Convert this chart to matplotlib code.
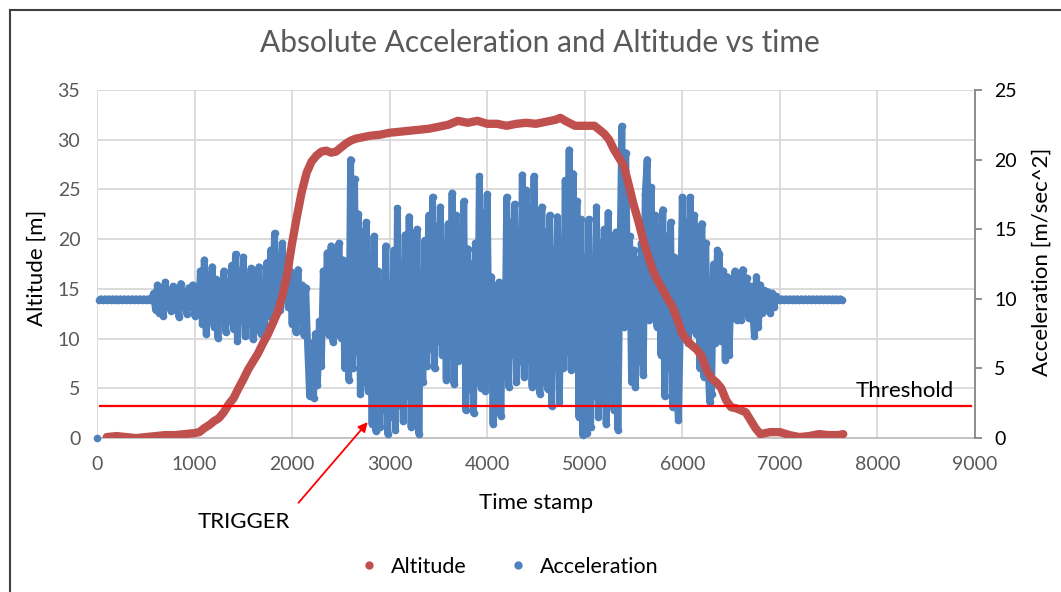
import numpy as np
import matplotlib
matplotlib.use("Agg")
import matplotlib.pyplot as plt
from matplotlib.lines import Line2D

plt.rcParams['font.family'] = ['Lato', 'DejaVu Sans']

# Altitude [m] vs time stamp
alt_time = [100, 200, 300, 400, 500, 600, 700, 800, 900, 1000, 1050, 1100, 1150, 1200,
            1250, 1300, 1350, 1400, 1450, 1500, 1550, 1600, 1650, 1700, 1750, 1800,
            1850, 1900, 1950, 2000, 2050, 2100, 2150, 2200, 2250, 2300, 2350, 2400,
            2450, 2500, 2550, 2600, 2650, 2700, 2800, 2900, 3000, 3100, 3200, 3300,
            3400, 3500, 3600, 3700, 3800, 3900, 4000, 4100, 4200, 4300, 4400, 4500,
            4600, 4700, 4750, 4800, 4900, 5000, 5100, 5200, 5250, 5300, 5350, 5400,
            5450, 5500, 5550, 5600, 5650, 5700, 5750, 5800, 5850, 5900, 5950, 6000,
            6050, 6100, 6150, 6200, 6250, 6300, 6350, 6400, 6450, 6500, 6550, 6600,
            6650, 6700, 6750, 6800, 6850, 6900, 7000, 7100, 7200, 7300, 7400, 7500,
            7600, 7650]
altitude = [0.1, 0.2, 0.1, 0.0, 0.1, 0.2, 0.3, 0.3, 0.4, 0.5, 0.6, 1.0, 1.3, 1.7,
            2.0, 2.6, 3.4, 4.0, 5.0, 5.9, 6.9, 7.7, 8.5, 9.5, 10.4, 11.5,
            12.6, 14.3, 16.5, 19.6, 22.3, 24.8, 26.7, 27.8, 28.4, 28.8, 28.9, 28.7,
            28.8, 29.2, 29.6, 29.9, 30.1, 30.2, 30.4, 30.5, 30.7, 30.8, 30.9, 31.0,
            31.1, 31.3, 31.5, 31.9, 31.7, 31.9, 31.6, 31.6, 31.4, 31.6, 31.7, 31.6,
            31.8, 32.0, 32.2, 31.9, 31.4, 31.4, 31.4, 30.6, 30.0, 29.0, 28.2, 27.4,
            25.5, 23.5, 21.8, 19.9, 18.3, 16.8, 15.8, 14.9, 14.0, 13.2, 11.9, 10.5,
            9.8, 9.3, 8.9, 8.2, 6.8, 6.0, 5.6, 5.0, 3.8, 3.1, 3.0, 2.8,
            2.6, 1.8, 1.0, 0.4, 0.5, 0.6, 0.6, 0.3, 0.1, 0.2, 0.4, 0.3,
            0.3, 0.4]

# Absolute acceleration [m/sec^2], one sample every 20 time stamps from 0
sample_step = 20
acc_rest_before = [0.0, 9.9, 10.0, 9.9, 10.0, 9.9, 10.0, 9.9, 10.0, 9.9, 10.0, 9.9, 10.0,
                   9.9, 10.0, 9.9, 10.0, 9.9, 10.0, 9.9, 10.0, 9.9, 10.0, 9.9, 10.0,
                   9.9, 10.0, 9.9, 10.0]
acc_flight = [
    10.4, 9.2, 11.0, 9.0, 10.8, 8.8, 11.2, 9.4, 10.6, 9.1,
    10.9, 9.3, 10.2, 8.7, 11.1, 9.6, 10.5, 8.9, 10.8, 9.4,
    11.0, 8.8, 10.5, 9.0, 12.0, 8.2, 12.8, 7.5, 11.6, 8.6,
    12.3, 8.0, 11.4, 7.2, 10.6, 9.1, 12.0, 7.6, 11.2, 8.4,
    12.4, 7.8, 13.2, 7.0, 12.0, 8.5, 13.0, 7.3, 11.5, 8.2,
    12.2, 7.1, 11.5, 8.4, 12.3, 7.5, 10.9, 8.0, 12.6, 8.8,
    13.5, 9.0, 14.7, 9.6, 13.0, 9.2, 14.0, 10.0, 12.6, 9.4,
    12.0, 8.2, 11.6, 7.6, 12.1, 8.8, 11.0, 7.4, 10.8, 6.5,
    3.0, 6.8, 2.9, 7.5, 3.8, 8.4, 5.2, 12.0, 7.6, 13.3,
    7.4, 13.8, 6.9, 12.6, 8.0, 14.0, 7.2, 12.8, 5.0, 11.5,
    4.2, 20.0, 5.0, 18.6, 6.2, 16.1, 3.2, 14.8, 4.0, 15.5,
    3.4, 13.0, 1.0, 14.5, 0.5, 12.0, 0.8, 10.5, 2.0, 13.8,
    0.3, 11.0, 1.5, 13.5, 0.6, 16.5, 2.4, 12.0, 1.2, 14.6,
    3.0, 15.9, 0.8, 13.0, 2.2, 15.0, 0.3, 11.8, 4.0, 14.2,
    5.2, 16.0, 6.4, 17.3, 5.0, 15.2, 7.0, 16.6, 6.0, 14.0,
    4.2, 15.4, 6.0, 17.6, 3.9, 16.0, 5.5, 14.5, 7.2, 17.0,
    2.0, 13.6, 3.5, 12.5, 1.8, 14.0, 4.0, 18.8, 3.6, 16.2,
    3.4, 17.5, 5.0, 11.6, 1.0, 10.5, 2.8, 11.2, 1.6, 9.8,
    4.5, 17.3, 3.7, 15.5, 6.0, 16.8, 4.0, 14.2, 5.5, 18.9,
    4.4, 17.8, 5.5, 16.5, 3.7, 18.8, 4.8, 15.5, 3.2, 16.6,
    4.0, 14.8, 3.5, 16.0, 2.3, 13.5, 5.0, 15.9, 2.6, 12.8,
    5.0, 18.5, 6.2, 20.7, 4.9, 19.0, 7.5, 17.0, 1.5, 15.7,
    0.2, 13.0, 0.4, 15.7, 0.8, 12.5, 3.0, 16.6, 1.5, 14.0,
    2.5, 15.0, 1.0, 16.2, 3.4, 13.5, 2.0, 14.8, 0.6, 12.0,
    22.4, 8.0, 20.5, 10.0, 14.5, 4.0, 13.5, 3.7, 12.8, 5.5,
    14.0, 4.5, 17.5, 20.0, 8.5, 18.0, 9.0, 16.0, 8.0, 15.0,
    6.0, 16.4, 3.0, 14.5, 5.0, 15.5, 2.2, 13.0, 4.0, 1.3,
    8.0, 17.3, 7.2, 15.5, 6.8, 17.3, 9.0, 16.0, 7.5, 15.0,
    5.0, 15.4, 4.4, 14.0, 6.0, 2.6, 3.2, 12.5, 6.8, 13.5,
    13.2, 7.0, 12.0, 5.6, 11.6, 6.0, 10.8, 8.6, 12.0, 8.5,
    11.8, 8.5, 12.1, 9.0, 11.5, 8.6, 10.9, 9.2, 7.3, 11.6,
    8.0, 11.0, 9.0, 10.6, 9.2, 10.5, 9.0, 10.4, 9.4, 10.2,
]
acc_rest_after = [10.0, 9.9, 10.0, 9.9, 10.0, 9.9, 10.0, 9.9, 10.0, 9.9, 10.0, 9.9,
                  10.0, 9.9, 10.0, 9.9, 10.0, 9.9, 10.0, 9.9, 10.0, 9.9, 10.0, 9.9,
                  10.0, 9.9, 10.0, 9.9, 10.0, 9.9, 10.0, 9.9, 10.0, 9.9]
acceleration = np.array(acc_rest_before + acc_flight + acc_rest_after)
acc_time = np.arange(len(acceleration)) * sample_step

threshold = 2.3
trigger_point = (2794, 1.3)

red = '#C0504D'
blue = '#4F81BD'
grid_c = '#D9D9D9'
gray_txt = '#595959'

fig = plt.figure(figsize=(10.61, 5.92), dpi=100)
ax = fig.add_axes([0.0914, 0.260, 0.8275, 0.588])
ax2 = ax.twinx()

# left axis (altitude scale)
ax.set_xlim(0, 9000)
ax.set_ylim(0, 35)
ax.set_xticks(range(0, 9001, 1000))
ax.set_yticks(range(0, 36, 5))
ax.grid(True, color=grid_c, lw=1.3)
ax.set_axisbelow(True)
for s in ['left', 'top', 'right']:
    ax.spines[s].set_visible(False)
ax.spines['bottom'].set_color('#BFBFBF')
ax.spines['bottom'].set_linewidth(1.3)
ax.tick_params(axis='both', length=0, labelsize=14, labelcolor=gray_txt)
ax.tick_params(axis='x', pad=13)
ax.tick_params(axis='y', pad=12)
ax.set_xlabel('Time stamp', fontsize=16, color='black', labelpad=14)

# right axis (acceleration scale)
ax2.set_ylim(0, 25)
ax2.set_yticks(range(0, 26, 5))
for s in ['left', 'top', 'bottom']:
    ax2.spines[s].set_visible(False)
ax2.spines['right'].set_color('#868686')
ax2.spines['right'].set_linewidth(1.3)
ax2.tick_params(axis='y', length=5, width=1.3, color='#868686', labelsize=14,
                labelcolor='black', pad=9)

# acceleration points
ax2.plot(acc_time[1:], acceleration[1:], '-', color=blue, lw=5, zorder=3,
         solid_joinstyle='round', solid_capstyle='round')
ax2.plot(acc_time, acceleration, 'o', color=blue, ms=5.5, mec='none', zorder=3, clip_on=False)

# altitude drawn on top of the acceleration cloud, in altitude units
ax2.plot(alt_time, altitude, '-', color=red, lw=6, solid_capstyle='round', zorder=4,
         transform=ax.transData)
ax2.set_ylim(0, 25)

fig.text(37 / 1061, 1 - 268 / 592, 'Altitude [m]', fontsize=16, color='black',
         rotation=90, ha='center', va='center')
fig.text(1042 / 1061, 1 - 262 / 592, 'Acceleration [m/sec^2]', fontsize=16,
         color='black', rotation=90, ha='center', va='center')

# threshold line and trigger annotation
ax2.axhline(threshold, xmin=0.003, xmax=0.996, color='#FF0000', lw=1.6, zorder=5)
ax2.text(7780, threshold + 1.1, 'Threshold', fontsize=16, color='black', va='center')
ax2.annotate('', xy=trigger_point, xytext=(2047, -4.8), annotation_clip=False,
             arrowprops=dict(arrowstyle='-|>', color='#FF0000', lw=1.3,
                             mutation_scale=14), zorder=6)
ax2.text(1505, -6.0, 'TRIGGER', fontsize=16, color='black', ha='center', va='center',
         clip_on=False)

fig.text(0.509, 0.927, 'Absolute Acceleration and Altitude vs time', fontsize=21.5,
         color=gray_txt, ha='center', va='center')

handles = [Line2D([], [], ls='none', marker='o', ms=6, color=red, mec='none'),
           Line2D([], [], ls='none', marker='o', ms=6, color=blue, mec='none')]
fig.legend(handles, ['Altitude', 'Acceleration'], loc='center', ncol=2,
           bbox_to_anchor=(0.478, 0.043), frameon=False, fontsize=15.5,
           handletextpad=0.4, columnspacing=1.8, handlelength=1.2)

# chart frame (top and left border of the screenshot)
fig.add_artist(Line2D([10 / 1061, 10 / 1061], [0, 1 - 10 / 592], color='#404040', lw=1.5))
fig.add_artist(Line2D([10 / 1061, 1], [1 - 10 / 592, 1 - 10 / 592], color='#404040', lw=1.5))

fig.savefig('out.png', dpi=100)
